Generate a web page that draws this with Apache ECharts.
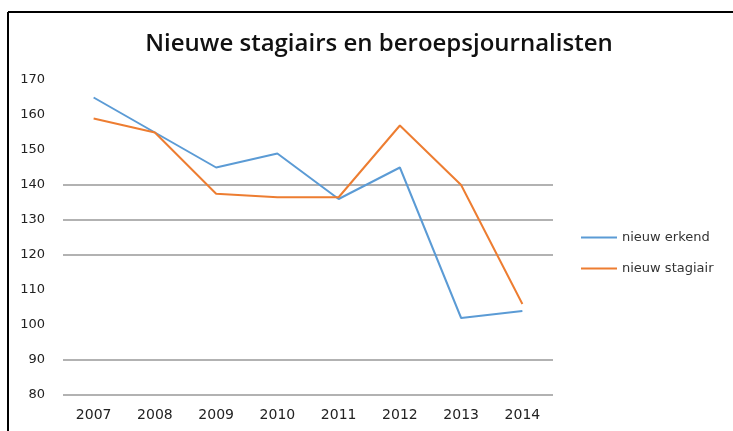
<!DOCTYPE html>
<html><head><meta charset="utf-8">
<script src="https://cdn.jsdelivr.net/npm/echarts@6/dist/echarts.min.js"></script>
<style>html,body{margin:0;padding:0;background:#fff}#c{width:733px;height:431px}</style>
</head><body><div id="c"></div>
<script>
const categories = ['2007','2008','2009','2010','2011','2012','2013','2014'];
const nieuwErkend = [165, 155, 145, 149, 136, 145, 102, 104];
const nieuwStagiair = [159, 155, 137.5, 136.5, 136.5, 157, 140, 106];
const yTicks = [80, 90, 100, 110, 120, 130, 140, 150, 160, 170];
const visibleGrid = [80, 90, 120, 130, 140];

const chart = echarts.init(document.getElementById('c'));
chart.setOption({
  animation: false,
  backgroundColor: '#fff',
  title: {
    text: 'Nieuwe stagiairs en beroepsjournalisten',
    left: 374, textAlign: 'center', top: 27,
    textStyle: {fontFamily: 'Open Sans', fontSize: 24, fontWeight: 600, color: '#111'}
  },
  legend: {
    orient: 'vertical', left: 576, top: 226, itemGap: 18,
    itemWidth: 36, itemHeight: 2,
    icon: 'rect',
    textStyle: {fontFamily: 'DejaVu Sans', fontSize: 13, color: '#333'},
    data: ['nieuw erkend', 'nieuw stagiair']
  },
  grid: {left: 63, right: 180, top: 80, bottom: 36},
  xAxis: {
    type: 'category', data: categories, boundaryGap: true,
    axisLine: {show: false},
    axisTick: {show: false},
    axisLabel: {fontFamily: 'DejaVu Sans', fontSize: 14, color: '#222', margin: 13}
  },
  yAxis: {
    type: 'value', min: yTicks[0], max: yTicks[yTicks.length - 1], interval: 10,
    axisLine: {show: false}, axisTick: {show: false},
    axisLabel: {fontFamily: 'DejaVu Sans', fontSize: 13, color: '#222', margin: 18},
    splitLine: {show: true, showMinLine: true, showMaxLine: true,
      lineStyle: {width: 1.5, color: yTicks.map(v => visibleGrid.includes(v) ? '#999' : 'rgba(0,0,0,0)')}}
  },
  series: [
    {name: 'nieuw erkend', type: 'line', data: nieuwErkend, showSymbol: false, symbol: 'none',
      lineStyle: {color: '#5B9BD5', width: 2}, itemStyle: {color: '#5B9BD5'}},
    {name: 'nieuw stagiair', type: 'line', data: nieuwStagiair, showSymbol: false, symbol: 'none',
      lineStyle: {color: '#ED7D31', width: 2}, itemStyle: {color: '#ED7D31'}}
  ],
  graphic: [
    {type: 'line', shape: {x1: 8, y1: 12, x2: 733, y2: 12}, style: {stroke: '#000', lineWidth: 2}},
    {type: 'line', shape: {x1: 8, y1: 12, x2: 8, y2: 431}, style: {stroke: '#000', lineWidth: 2}}
  ]
});
</script></body></html>
